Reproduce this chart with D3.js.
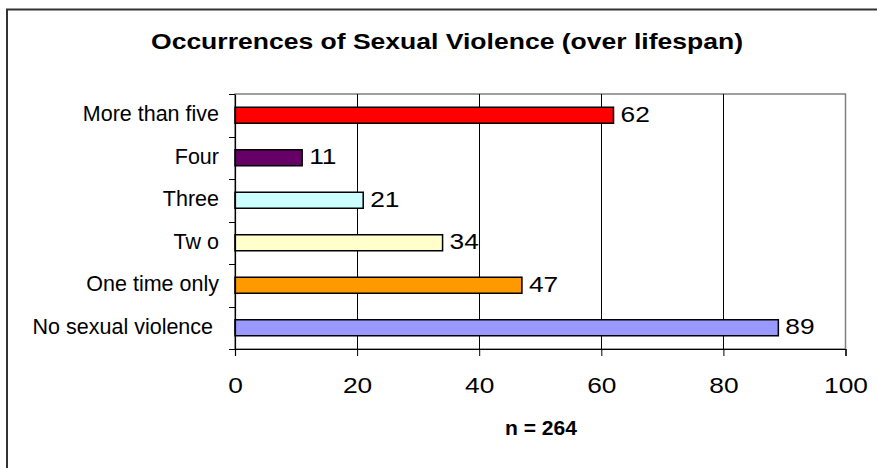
<!DOCTYPE html>
<html>
<head>
<meta charset="utf-8">
<script src="https://cdn.jsdelivr.net/npm/d3@7"></script>
<style>
  html, body { margin: 0; padding: 0; background: #fff; }
  svg { display: block; font-family: "Liberation Sans", Arial, sans-serif; }
</style>
</head>
<body>
<svg id="chart" width="877" height="468"></svg>
<script>
const titleText = "Occurrences of Sexual Violence (over lifespan)";
const noteText = "n = 264";
const categories = ["More than five", "Four", "Three", "Tw o", "One time only", "No sexual violence "];
const values = [62, 11, 21, 34, 47, 89];
const barColors = ["#FF0000", "#660066", "#CCFFFF", "#FFFFCC", "#FF9900", "#9999FF"];
const xTicks = [0, 20, 40, 60, 80, 100];

const svg = d3.select("#chart");
const plot = { left: 235, right: 845.5, top: 94, bottom: 349 };
const numStretch = 1.17;

// outer frame
svg.append("rect")
  .attr("x", 7).attr("y", 9.5).attr("width", 900).attr("height", 500)
  .attr("fill", "#fff").attr("stroke", "#333").attr("stroke-width", 2);

const x = d3.scaleLinear().domain([0, 100]).range([plot.left, plot.right]);
const y = d3.scaleBand().domain(categories).range([plot.top, plot.bottom])
  .paddingInner(0.6235).paddingOuter(0.6235 / 2);

// plot area border (gray)
svg.append("rect")
  .attr("x", plot.left).attr("y", plot.top)
  .attr("width", plot.right - plot.left).attr("height", plot.bottom - plot.top)
  .attr("fill", "none").attr("stroke", "#808080").attr("stroke-width", 1.5);

// gridlines
svg.append("g").selectAll("line").data(xTicks.filter(t => t > 0 && t < 100)).join("line")
  .attr("x1", d => Math.round(x(d)) + 0.5).attr("x2", d => Math.round(x(d)) + 0.5)
  .attr("y1", plot.top).attr("y2", plot.bottom)
  .attr("stroke", "#000").attr("stroke-width", 1);

// bars
svg.append("g").selectAll("rect").data(categories).join("rect")
  .attr("x", x(0))
  .attr("y", d => y(d))
  .attr("width", (d, i) => x(values[i]) - x(0))
  .attr("height", y.bandwidth())
  .attr("fill", (d, i) => barColors[i])
  .attr("stroke", "#000").attr("stroke-width", 1.5);

// value labels
svg.append("g").selectAll("text").data(categories).join("text")
  .attr("transform", (d, i) => `translate(${x(values[i]) + 7},${y(d) + y.bandwidth() / 2 + 6.5}) scale(${numStretch},1)`)
  .attr("font-size", 22.5)
  .attr("fill", "#000")
  .text((d, i) => values[i]);

// x axis
const xAxis = d3.axisBottom(x).tickValues(xTicks).tickSize(7).tickPadding(0).tickFormat(d3.format("d"));
const gx = svg.append("g").attr("transform", `translate(0,${plot.bottom})`).call(xAxis);
gx.select(".domain").attr("stroke", "#000").attr("stroke-width", 1.2);
gx.selectAll(".tick line").attr("stroke", "#000");
gx.selectAll(".tick text").attr("font-size", 22.5).attr("fill", "#000")
  .attr("font-family", "'Liberation Sans', Arial, sans-serif")
  .attr("dy", null).attr("y", null)
  .attr("transform", `translate(0,44) scale(${numStretch},1)`);

// y axis
const yAxis = d3.axisLeft(y).tickSize(0).tickPadding(16);
const gy = svg.append("g").attr("transform", `translate(${plot.left},0)`).call(yAxis);
gy.select(".domain").attr("stroke", "#000").attr("stroke-width", 1.2);
gy.selectAll(".tick text").attr("font-size", 21.5).attr("fill", "#000")
  .attr("font-family", "'Liberation Sans', Arial, sans-serif")
  .style("white-space", "pre")
  .attr("dy", null).attr("y", 6);
// category boundary ticks
const bounds = categories.map(c => y(c) - y.step() * y.paddingInner() / 2);
bounds.push(plot.bottom);
svg.append("g").selectAll("line").data(bounds).join("line")
  .attr("x1", plot.left - 6).attr("x2", plot.left)
  .attr("y1", d => Math.round(d) + 0.5).attr("y2", d => Math.round(d) + 0.5)
  .attr("stroke", "#000").attr("stroke-width", 1);

// title
svg.append("text")
  .attr("x", 151).attr("y", 48.5)
  .attr("font-size", 22).attr("font-weight", "bold")
  .attr("textLength", 592).attr("lengthAdjust", "spacingAndGlyphs")
  .text(titleText);

// note
svg.append("text")
  .attr("x", 505).attr("y", 435)
  .attr("font-size", 20).attr("font-weight", "bold")
  .attr("textLength", 72).attr("lengthAdjust", "spacingAndGlyphs")
  .text(noteText);
</script>
</body>
</html>
